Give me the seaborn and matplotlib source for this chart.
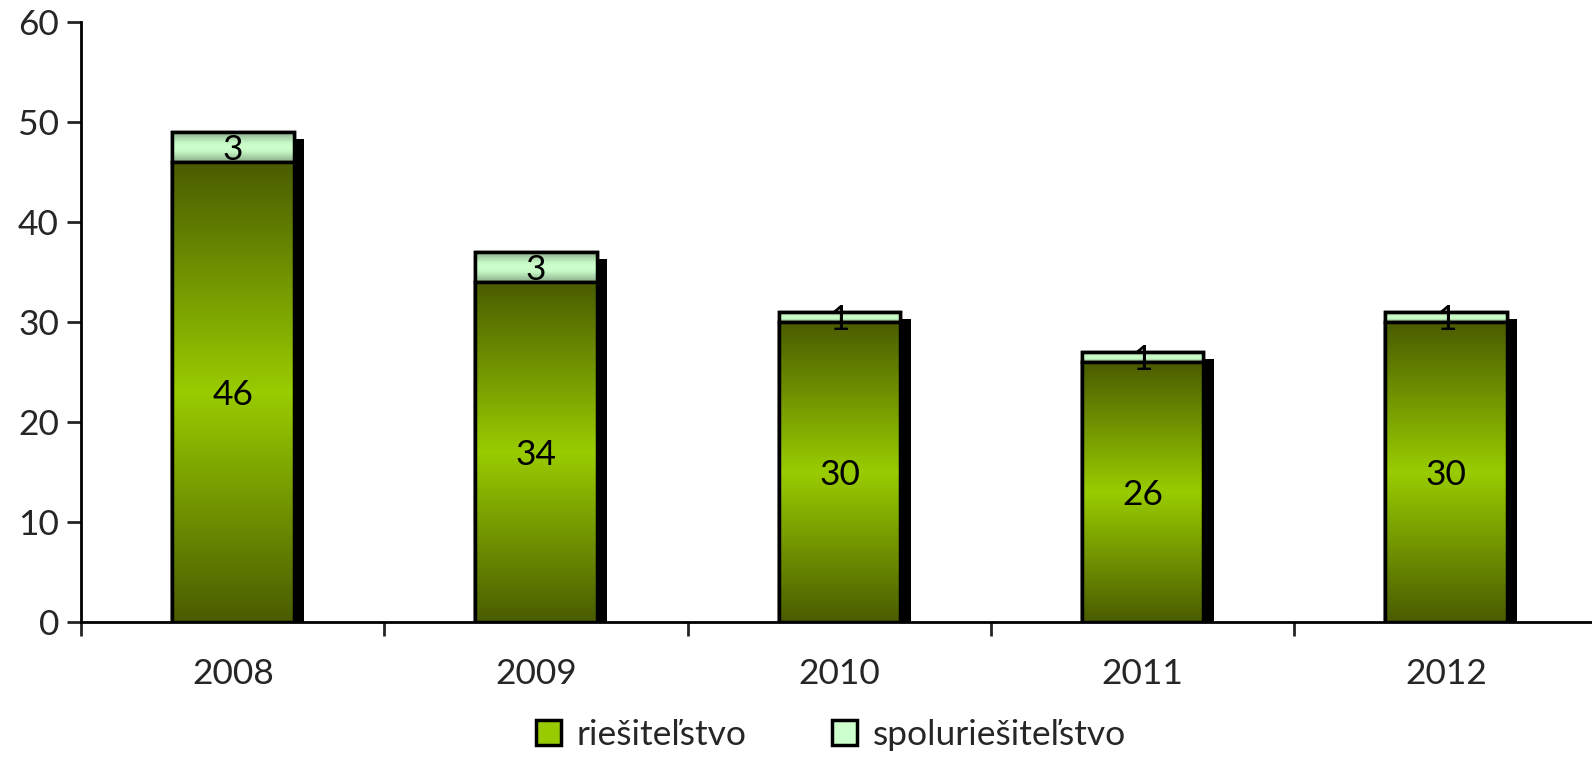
import numpy as np
import pandas as pd
import matplotlib
matplotlib.use("Agg")
import matplotlib.pyplot as plt
import matplotlib.patheffects as pe
from matplotlib.colors import LinearSegmentedColormap
from matplotlib.patches import Patch, Rectangle
import seaborn as sns

# data
years = ["2008", "2009", "2010", "2011", "2012"]
riesitelstvo = [46, 34, 30, 26, 30]
spoluriesitelstvo = [3, 3, 1, 1, 1]
y_ticks = [0, 10, 20, 30, 40, 50, 60]

df = pd.DataFrame({"rok": years, "riešiteľstvo": riesitelstvo,
                   "spoluriešiteľstvo": spoluriesitelstvo})
df["spolu"] = df["riešiteľstvo"] + df["spoluriešiteľstvo"]

sns.set_style("white")
plt.rcParams["font.family"] = ["Lato", "DejaVu Sans"]
FS = 25.5

fig = plt.figure(figsize=(15.92, 7.58), dpi=100)
ax = fig.add_axes([0.051, 0.1794, 0.9526, 0.7910])

green_cmap = LinearSegmentedColormap.from_list("g", ["#4a5c00", "#99cc00", "#4a5c00"])
light_cmap = LinearSegmentedColormap.from_list(
    "l", [(0, "#8aab8a"), (0.35, "#c6f8c6"), (0.5, "#ccffcc"), (0.65, "#c6f8c6"), (1, "#8aab8a")])

# totals first (light top part), then the bottom part over it
sns.barplot(data=df, x="rok", y="spolu", color="#ccffcc", width=0.4,
            edgecolor="black", linewidth=2.5, saturation=1, ax=ax)
n = len(ax.patches)
sns.barplot(data=df, x="rok", y="riešiteľstvo", color="#99cc00", width=0.4,
            edgecolor="black", linewidth=2.5, saturation=1, ax=ax)

grad = np.linspace(0, 1, 256).reshape(-1, 1)
patches = list(ax.patches)
for i, p in enumerate(patches):
    top = i < n
    x0, w = p.get_x(), p.get_width()
    if top:
        p.set_path_effects([pe.SimplePatchShadow(offset=(7.5, -5), shadow_rgbFace="black", alpha=1),
                            pe.Normal()])
        # light gradient only over the upper segment
        y0 = patches[i + n].get_height()
        y1 = p.get_height()
    else:
        y0, y1 = p.get_y(), p.get_y() + p.get_height()
    z = p.get_zorder() + (0 if top else 0.5)
    im = ax.imshow(grad, cmap=light_cmap if top else green_cmap, extent=[x0, x0 + w, y0, y1],
                   aspect="auto", interpolation="bilinear", zorder=z + 0.01)
    im.set_clip_path(p)
    ax.add_patch(Rectangle((x0, y0), w, y1 - y0, fill=False, edgecolor="black", linewidth=2.5,
                           zorder=z + 0.02))

ax.set_xlim(-0.5, 4.5)
ax.set_ylim(0, 60)

# value labels centred in each segment
for i in range(len(years)):
    ax.text(i, riesitelstvo[i] / 2 - 0.3, str(riesitelstvo[i]), ha="center", va="center",
            fontsize=FS, color="black", zorder=10)
    ax.text(i, riesitelstvo[i] + spoluriesitelstvo[i] / 2 - 0.3, str(spoluriesitelstvo[i]),
            ha="center", va="center", fontsize=FS, color="black", zorder=10)

ax.set_xlabel("")
ax.set_ylabel("")
ax.set_yticks(y_ticks)
ax.set_xticks(range(len(years)))
ax.set_xticklabels(years)
ax.set_xticks(np.arange(-0.5, 5.0, 1.0), minor=True)
ax.tick_params(axis="x", which="major", length=0, pad=26, labelsize=FS)
ax.tick_params(axis="x", which="minor", length=10, width=2, direction="out", bottom=True)
ax.tick_params(axis="y", length=10, width=2, direction="out", left=True, labelsize=FS, pad=6)

sns.despine(ax=ax)
for s in ["left", "bottom"]:
    ax.spines[s].set_linewidth(2)
    ax.spines[s].set_color("black")
ax.grid(False)

handles = [Patch(facecolor="#99cc00", edgecolor="black", linewidth=2.5, label="riešiteľstvo"),
           Patch(facecolor="#ccffcc", edgecolor="black", linewidth=2.5, label="spoluriešiteľstvo")]
fig.legend(handles=handles, loc="center", bbox_to_anchor=(0.522, 0.03), ncol=2, frameon=False,
           fontsize=FS, handlelength=0.7, handleheight=0.7, handletextpad=0.45, columnspacing=2.4)

fig.savefig("out.png", dpi=100)
